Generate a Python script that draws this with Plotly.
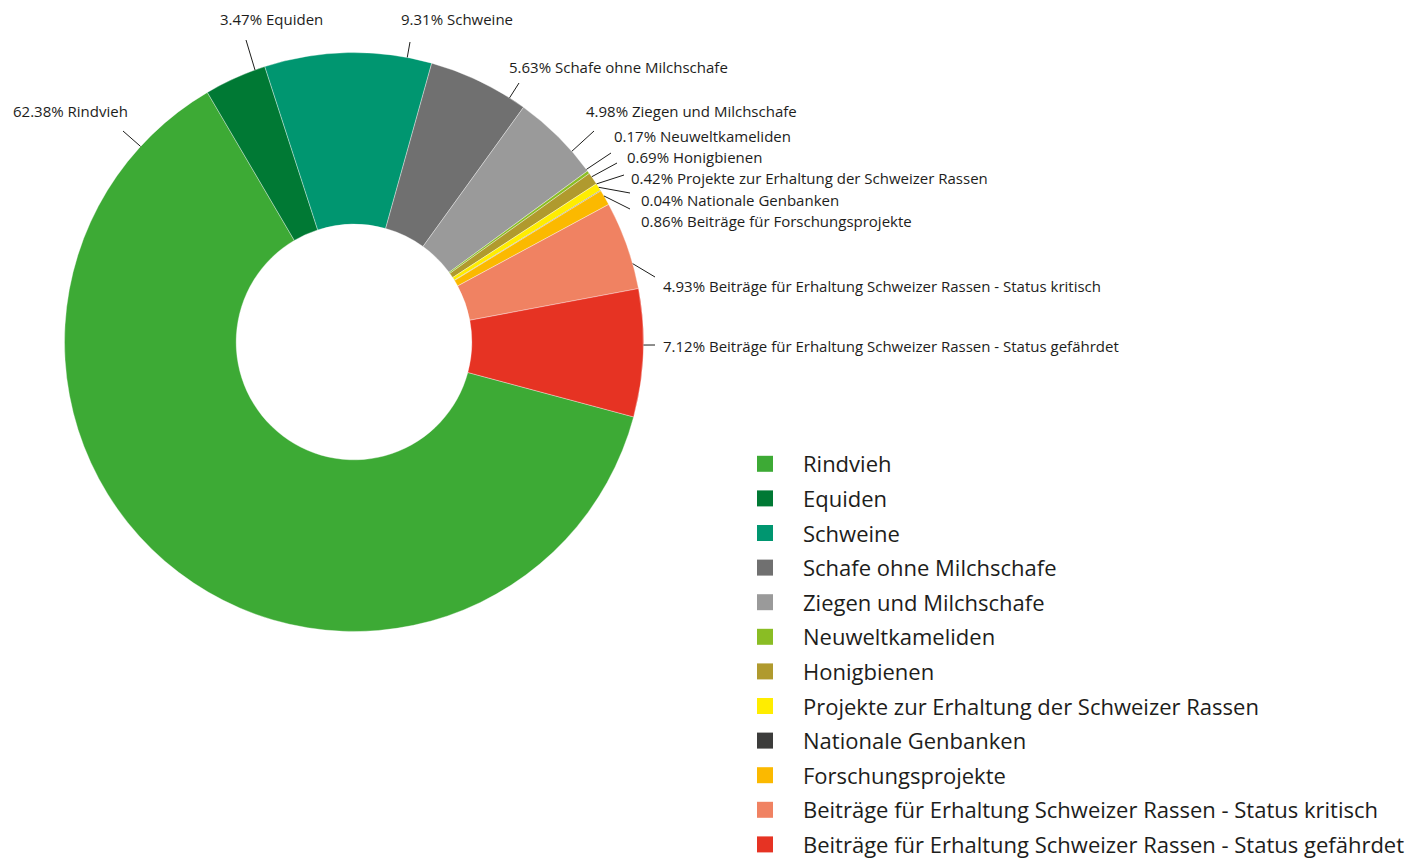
import math
import plotly.graph_objects as go

# ---------------- data ----------------
categories = [
    "Rindvieh",
    "Equiden",
    "Schweine",
    "Schafe ohne Milchschafe",
    "Ziegen und Milchschafe",
    "Neuweltkameliden",
    "Honigbienen",
    "Projekte zur Erhaltung der Schweizer Rassen",
    "Nationale Genbanken",
    "Forschungsprojekte",
    "Beiträge für Erhaltung Schweizer Rassen - Status kritisch",
    "Beiträge für Erhaltung Schweizer Rassen - Status gefährdet",
]
label_names = [
    "Rindvieh",
    "Equiden",
    "Schweine",
    "Schafe ohne Milchschafe",
    "Ziegen und Milchschafe",
    "Neuweltkameliden",
    "Honigbienen",
    "Projekte zur Erhaltung der Schweizer Rassen",
    "Nationale Genbanken",
    "Beiträge für Forschungsprojekte",
    "Beiträge für Erhaltung Schweizer Rassen - Status kritisch",
    "Beiträge für Erhaltung Schweizer Rassen - Status gefährdet",
]
shares = [62.38, 3.47, 9.31, 5.63, 4.98, 0.17, 0.69, 0.42, 0.04, 0.86, 4.93, 7.12]
colors = ["#3DAA35", "#007934", "#009670", "#707070", "#9A9A9A", "#8ABD24",
          "#B09A2E", "#FFED00", "#3C3C3B", "#FBB900", "#F08262", "#E63323"]

# ---------------- layout helpers ----------------
W, H = 1408, 861
CX, CY, R = 354, 342, 289.5
HOLE = 0.407
ROTATION = 105
FONT = "Open Sans"
TXT = "#1d1d1b"

# label leader lines: angle (deg, clockwise from 12 o'clock) on the outer rim,
# end point of the line (px) and text anchor (px)
label_anchor_deg = [312.5, 340.0, 10.6, 32.5, 48.8, 53.4, 55.2, 56.9, 57.7, 59.7, 74.3, 90.6]
line_end_px = [(123, 131), (246, 40), (410, 42), (519, 83), (594, 131), (611, 153),
               (617, 163), (624, 175), (630, 193), (630, 209), (655, 277), (655, 345)]
text_pos_px = [(130, 111, "right"), (218, 19, "left"), (399, 19, "left"), (507, 67, "left"),
               (584, 111, "left"), (612, 136, "left"), (625, 157, "left"), (629, 178, "left"),
               (639, 200, "left"), (639, 221, "left"), (661, 286, "left"), (661, 346, "left")]


def px(x, y):
    return x / W, 1 - y / H


fig = go.Figure()
fig.add_trace(go.Pie(
    values=shares,
    labels=categories,
    sort=False,
    direction="clockwise",
    rotation=ROTATION,
    hole=HOLE,
    marker=dict(colors=colors, line=dict(color="rgba(255,255,255,0.6)", width=0.6)),
    textinfo="none",
    hovertemplate="%{label}: %{value:.2f}%<extra></extra>",
    showlegend=False,
    domain=dict(x=[(CX - R) / W, (CX + R) / W], y=[1 - (CY + R) / H, 1 - (CY - R) / H]),
))

# legend entries
for name, c in zip(categories, colors):
    fig.add_trace(go.Scatter(
        x=[None], y=[None], mode="markers", name=name, legendgroup=name,
        marker=dict(symbol="square", size=16, color=c), hoverinfo="skip",
    ))

shapes = []
annotations = []
for v, name, ang, (ex, ey), (tx, ty, anc) in zip(shares, label_names, label_anchor_deg,
                                                 line_end_px, text_pos_px):
    a = math.radians(ang)
    sx = CX + R * math.sin(a)
    sy = CY - R * math.cos(a)
    x0, y0 = px(sx, sy)
    x1, y1 = px(ex, ey)
    shapes.append(dict(type="line", xref="paper", yref="paper", x0=x0, y0=y0, x1=x1, y1=y1,
                       line=dict(color="#1d1d1b", width=1)))
    ax, ay = px(tx, ty)
    annotations.append(dict(xref="paper", yref="paper", x=ax, y=ay, xanchor=anc, yanchor="middle",
                            text=f"{v:.2f}% {name}", showarrow=False,
                            font=dict(family=FONT, size=15, color=TXT)))

fig.update_layout(
    width=W, height=H,
    margin=dict(l=0, r=0, t=0, b=0, autoexpand=False),
    paper_bgcolor="white", plot_bgcolor="white",
    xaxis=dict(visible=False), yaxis=dict(visible=False),
    shapes=shapes, annotations=annotations,
    showlegend=True,
    legend=dict(x=727 / W, y=1 - 443 / H, xanchor="left", yanchor="top",
                font=dict(family=FONT, size=22, color=TXT),
                tracegroupgap=3, itemwidth=66, bgcolor="rgba(0,0,0,0)"),
)

fig.write_html("out.html")
